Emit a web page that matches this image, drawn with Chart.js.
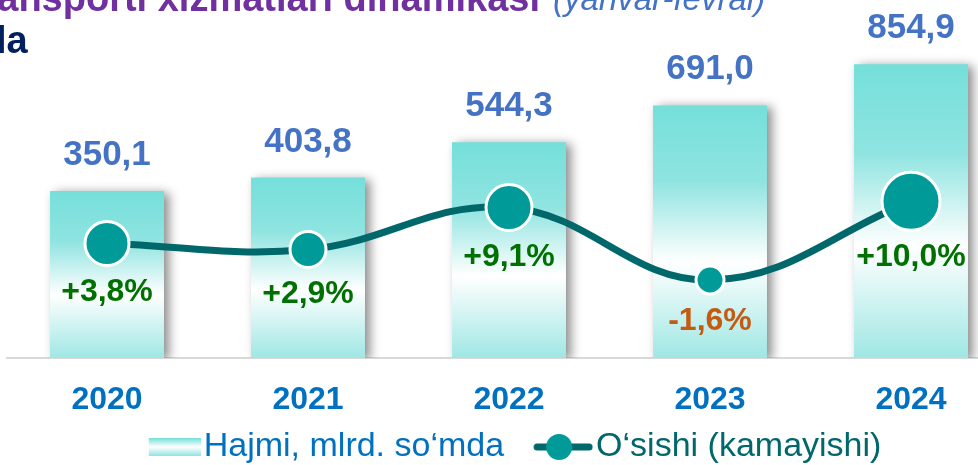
<!DOCTYPE html>
<html>
<head>
<meta charset="utf-8">
<script src="https://cdn.jsdelivr.net/npm/chart.js@4.4.1/dist/chart.umd.min.js"></script>
<style>
  html, body { margin: 0; padding: 0; background: #fff; overflow: hidden; width: 978px; height: 465px; }
  #wrap { position: relative; width: 978px; height: 465px; overflow: hidden; }
  canvas { position: absolute; left: 0; top: 0; }
  .txt { position: absolute; white-space: nowrap; line-height: 1; font-family: 'Liberation Sans', Arial, sans-serif; }
</style>
</head>
<body>
<div id="wrap">
  <canvas id="chart" width="1012" height="474"></canvas>
  <div class="txt" style="top:-21px; right:438px; font-weight:bold; font-size:38px; color:#7030a0;">Transporti xizmatlari dinamikasi</div>
  <div class="txt" style="top:-18px; left:553px; font-style:italic; font-size:33px; color:#4472c4;">(yanvar-fevral)</div>
  <div class="txt" style="top:21px; left:-4px; font-weight:bold; font-size:38px; color:#002060;">la</div>
</div>
<script>
// Data
const years = ['2020', '2021', '2022', '2023', '2024'];
const volume = [350.1, 403.8, 544.3, 691.0, 854.9];   // Hajmi, mlrd. so'mda
const growth = [3.8, 2.9, 9.1, -1.6, 10.0];           // O'sishi (kamayishi), %

const legendNames = ['Hajmi, mlrd. so‘mda', 'O‘sishi (kamayishi)'];

const FONT = "'Liberation Sans', Arial, sans-serif";

// vertical gradient used in every bar (teal -> white -> light teal)
function barGradient(ctx, top, bottom) {
    const g = ctx.createLinearGradient(0, top, 0, bottom);
    g.addColorStop(0, '#75dfda');
    g.addColorStop(0.3, '#8fe4e0');
    g.addColorStop(0.62, '#ffffff');
    g.addColorStop(1, '#9fe7e4');
    return g;
}

// legend marker images
function makeBarMarker() {
    const c = document.createElement('canvas');
    c.width = 97; c.height = 20;
    const x = c.getContext('2d');
    const g = x.createLinearGradient(0, 1, 0, 19);
    g.addColorStop(0, '#75dfda');
    g.addColorStop(0.5, '#ffffff');
    g.addColorStop(1, '#8fe4e0');
    x.fillStyle = g;
    x.fillRect(45, 1, 52, 18);
    return c;
}

function makeLineMarker() {
    const c = document.createElement('canvas');
    c.width = 97; c.height = 30;
    const x = c.getContext('2d');
    x.strokeStyle = '#00686a';
    x.lineWidth = 7;
    x.lineCap = 'round';
    x.beginPath();
    x.moveTo(41, 15);
    x.lineTo(93, 15);
    x.stroke();
    x.fillStyle = '#009b98';
    x.beginPath();
    x.arc(63, 15, 13, 0, Math.PI * 2);
    x.fill();
    return c;
}

function fmt(v) {
    return v.toFixed(1).replace('.', ',');
}

// shadow behind the bars
const barShadow = {
    id: 'barShadow',
    beforeDatasetDraw(chart, args) {
        if (chart.data.datasets[args.index].type !== 'bar') return;
        const ctx = chart.ctx;
        ctx.save();
        ctx.shadowColor = 'rgba(0,0,0,0.45)';
        ctx.shadowBlur = 10;
        ctx.shadowOffsetX = 5;
        ctx.shadowOffsetY = 2;
    },
    afterDatasetDraw(chart, args) {
        if (chart.data.datasets[args.index].type !== 'bar') return;
        chart.ctx.restore();
    }
};

// value labels above bars and growth labels under points
const valueLabels = {
    id: 'valueLabels',
    afterDatasetsDraw(chart) {
        const ctx = chart.ctx;
        const bars = chart.getDatasetMeta(0).data;
        const points = chart.getDatasetMeta(1).data;
        ctx.save();
        ctx.textAlign = 'center';

        ctx.font = 'bold 35px ' + FONT;
        ctx.fillStyle = '#4472c4';
        ctx.textBaseline = 'alphabetic';
        bars.forEach((bar, i) => {
            ctx.fillText(fmt(volume[i]), bar.x, bar.y - 26);
        });

        ctx.font = 'bold 32px ' + FONT;
        ctx.textBaseline = 'middle';
        points.forEach((pt, i) => {
            const v = growth[i];
            const r = pt.options.radius;
            ctx.fillStyle = v >= 0 ? '#007000' : '#c55a11';
            ctx.fillText((v >= 0 ? '+' : '') + fmt(v) + '%', pt.x, pt.y + r + 27);
        });
        ctx.restore();
    }
};

const barMarker = makeBarMarker();
const lineMarker = makeLineMarker();

const ctx = document.getElementById('chart').getContext('2d');

new Chart(ctx, {
    data: {
        labels: years,
        datasets: [
            {
                type: 'bar',
                label: legendNames[0],
                data: volume,
                yAxisID: 'y',
                base: -314,
                order: 1,
                barPercentage: 0.567,
                categoryPercentage: 1,
                borderWidth: 0,
                backgroundColor: (c) => {
                    const chart = c.chart;
                    if (!chart.chartArea || c.dataIndex === undefined) return '#75dfda';
                    const y = chart.scales.y;
                    const top = y.getPixelForValue(volume[c.dataIndex]);
                    const bottom = y.getPixelForValue(-314);
                    return barGradient(chart.ctx, top, bottom);
                }
            },
            {
                type: 'line',
                label: legendNames[1],
                data: growth,
                yAxisID: 'y1',
                order: 0,
                borderColor: '#00686a',
                borderWidth: 7,
                tension: 0.4,
                clip: false,
                pointRadius: [22, 18, 23, 14, 29],
                pointBackgroundColor: '#009b98',
                pointBorderColor: '#ffffff',
                pointBorderWidth: 3,
                pointHoverRadius: [22, 18, 23, 14, 29]
            }
        ]
    },
    options: {
        responsive: false,
        animation: false,
        devicePixelRatio: 1,
        layout: {
            autoPadding: false,
            padding: { left: 6.5, right: 0.5, top: 20, bottom: 0 }
        },
        plugins: {
            tooltip: { enabled: false },
            legend: {
                position: 'bottom',
                onClick: null,
                labels: {
                    usePointStyle: true,
                    pointStyleWidth: 69,
                    padding: 6,
                    font: { family: FONT, size: 34 },
                    generateLabels: () => [
                        { text: legendNames[0], fontColor: '#0070c0', pointStyle: barMarker, fillStyle: 'transparent', strokeStyle: 'transparent', lineWidth: 0, hidden: false, datasetIndex: 0 },
                        // trailing spaces nudge the centred row a little to the left
                        { text: legendNames[1] + '  ', fontColor: '#00686a', pointStyle: lineMarker, fillStyle: 'transparent', strokeStyle: 'transparent', lineWidth: 0, hidden: false, datasetIndex: 1 }
                    ]
                }
            }
        },
        scales: {
            x: {
                grid: { display: false, drawTicks: false },
                border: { display: true, color: '#d9d9d9', width: 2 },
                ticks: {
                    padding: 31,
                    color: '#0070c0',
                    font: { family: FONT, size: 32, weight: 'bold', lineHeight: 0.69 }
                },
                // keep the axis box short so the legend sits close under the years
                afterFit(scale) {
                    scale.height = 66;
                }
            },
            y: {
                display: false,
                min: -314,
                max: 1031
            },
            y1: {
                display: false,
                position: 'right',
                min: -13.1,
                max: 36.75
            }
        }
    },
    plugins: [barShadow, valueLabels]
});
</script>
</body>
</html>
